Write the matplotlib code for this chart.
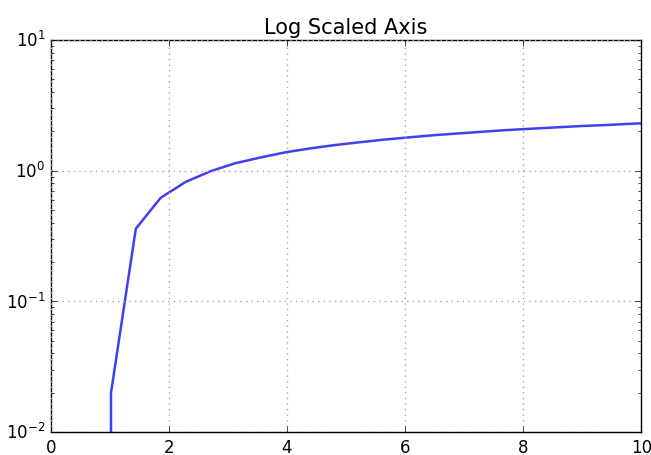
import matplotlib
matplotlib.use("Agg")
import matplotlib.pyplot as plt

# values (natural log of x, drawn on a log y axis)
x_vals = [0.6, 1.02, 1.44, 1.86, 2.28, 2.7, 3.12, 3.54, 3.96, 4.38, 4.8, 5.22,
          5.64, 6.06, 6.48, 6.9, 7.32, 7.74, 8.16, 8.58, 9.0, 9.42, 9.84, 10.26]
y_vals = [-0.51, 0.02, 0.36, 0.62, 0.82, 0.99, 1.14, 1.26, 1.38, 1.48, 1.57, 1.65,
          1.73, 1.80, 1.87, 1.93, 1.99, 2.05, 2.10, 2.15, 2.20, 2.24, 2.29, 2.33]

plt.style.use('classic')
plt.rcParams['mathtext.fontset'] = 'dejavusans'

fig = plt.figure(figsize=(6.51, 4.56), dpi=100)
fig.patch.set_facecolor('white')
ax = fig.add_axes([0.078, 0.050, 0.907, 0.860])

ax.plot(x_vals, y_vals, color='#4040f0', linewidth=1.8)
ax.set_yscale('log', nonpositive='clip')
ax.set_xlim(0, 10)
ax.set_ylim(0.01, 10)
ax.grid(True, color='0.65', linestyle=':', linewidth=1)
ax.set_title("Log Scaled Axis", fontsize=15)
ax.tick_params(labelsize=12)

fig.savefig("out.png", dpi=100, facecolor='white')
